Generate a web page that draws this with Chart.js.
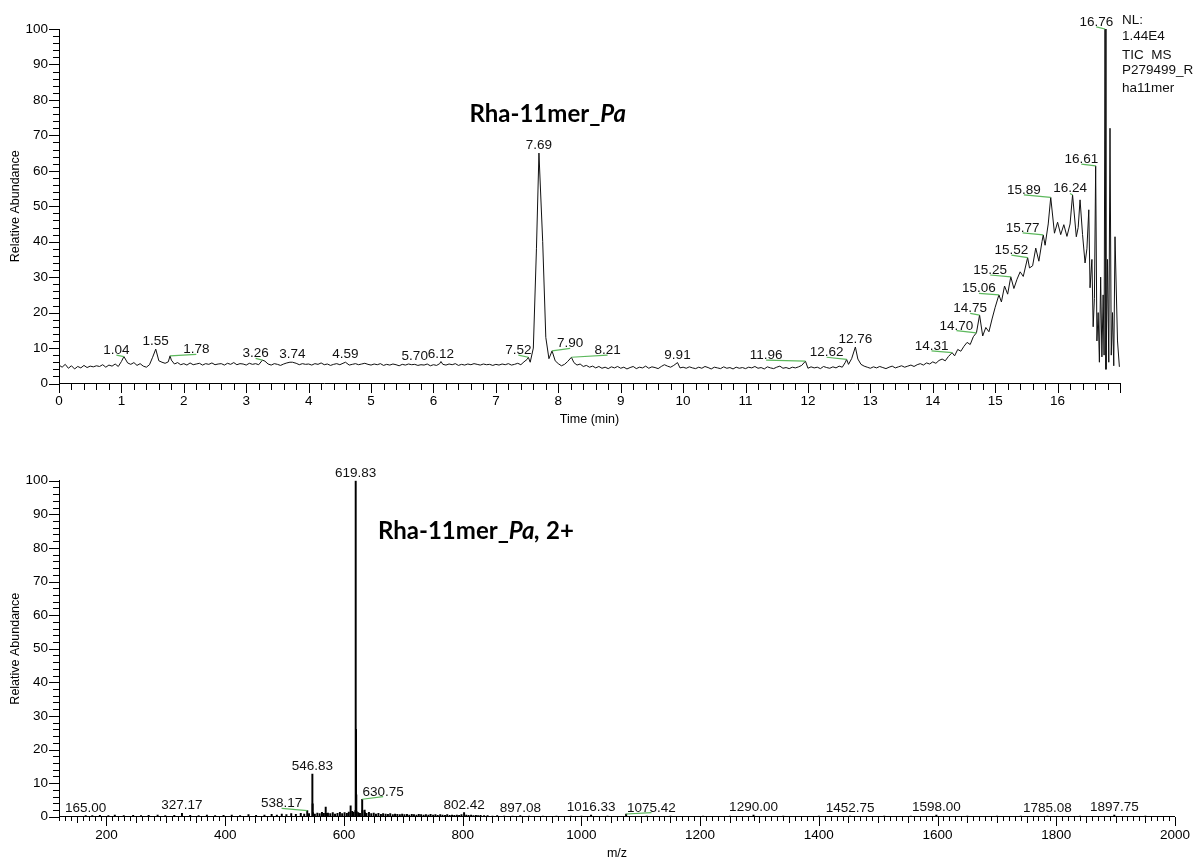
<!DOCTYPE html>
<html>
<head>
<meta charset="utf-8">
<script src="https://cdn.jsdelivr.net/npm/chart.js@4.4.1/dist/chart.umd.min.js"></script>
<style>
  body { margin: 0; background: #fff; }
  #page { position: relative; width: 1200px; height: 861px; overflow: hidden; font-family: "Liberation Sans", Arial, sans-serif; }
  canvas { position: absolute; left: 0; }
  #tic { top: 0; }
  #ms { top: 430px; }
  .title { position: absolute; font-family: Lato, "Open Sans", sans-serif; font-weight: 700; font-size: 24px; line-height: 24px; white-space: nowrap; color: #000; }
  .note { position: absolute; left: 1122px; font-size: 13.5px; line-height: 16px; white-space: pre; color: #111; }
</style>
</head>
<body>
<div id="page">
  <canvas id="tic" width="1200" height="430"></canvas>
  <canvas id="ms" width="1200" height="431"></canvas>
  <div class="title" style="right:574px; top:101px;">Rha-11mer_<i>Pa</i></div>
  <div class="title" style="left:378px; top:518px;">Rha-11mer_<i>Pa,</i> 2+</div>
  <div class="note" style="top:12px;">NL:</div>
  <div class="note" style="top:28px;">1.44E4</div>
  <div class="note" style="top:47px;">TIC  MS</div>
  <div class="note" style="top:62px;">P279499_R</div>
  <div class="note" style="top:80px;">ha11mer</div>
</div>
<script>
// TIC trace, one scan every 0.05 min from 0 to 16.30 min
const ticStep = 0.05;
const ticScan = [
  5.2,4.6,5.4,4.3,5.0,4.1,4.8,4.4,5.1,4.5,4.9,4.7,5.0,4.8,5.3,4.6,5.2,4.9,5.5,4.8,
  6.2,7.4,5.8,5.4,5.9,5.1,5.6,4.9,4.6,5.3,7.4,9.5,6.4,6.0,5.7,6.1,6.6,5.5,5.9,5.3,
  5.6,5.2,5.8,5.3,5.5,5.7,5.2,5.6,5.4,5.8,5.3,5.5,5.6,5.2,5.7,5.4,5.9,5.3,5.6,5.5,
  5.2,5.7,5.4,5.6,5.3,5.9,6.3,5.5,5.2,5.6,5.4,5.1,5.5,5.8,6.0,5.4,5.7,5.3,5.6,5.4,
  5.5,5.2,5.6,5.4,5.8,5.3,5.5,5.1,5.4,5.6,5.3,5.7,5.5,5.2,5.4,5.6,5.3,5.5,5.7,5.4,
  5.2,5.5,5.3,5.6,5.1,5.4,5.2,5.5,5.3,5.0,5.4,5.2,5.5,5.3,5.6,5.1,5.3,5.2,5.5,5.0,
  5.3,5.1,5.6,5.4,5.2,5.5,5.3,5.6,5.1,5.4,5.2,5.5,5.3,5.6,5.4,5.2,5.5,5.3,5.4,5.1,
  5.4,5.2,5.5,5.3,5.6,5.2,5.4,5.7,5.3,6.1,6.8,6.0,10.0,38.0,64.0,40.0,13.0,7.0,9.0,6.4,
  5.6,5.0,5.4,6.2,7.2,5.9,5.2,5.5,4.8,5.1,4.6,4.9,4.4,4.8,4.3,4.6,4.2,4.7,4.4,4.8,
  4.3,4.6,4.1,4.5,4.8,4.2,4.6,4.4,4.9,4.3,4.7,4.5,4.2,4.8,5.3,4.9,4.6,5.1,5.8,4.4,
  4.6,4.3,4.7,4.4,4.2,4.6,4.3,4.8,4.5,4.1,4.6,4.4,4.2,4.7,4.3,4.5,4.1,4.6,4.3,4.5,
  4.2,4.6,4.4,4.8,4.3,4.5,4.1,4.7,4.4,4.2,4.6,4.9,4.3,4.5,4.2,4.6,4.4,4.7,5.1,6.0,
  4.3,4.7,4.4,4.6,4.2,4.8,4.5,4.3,4.7,4.4,4.9,4.6,6.0,5.4,7.0,10.0,6.9,5.4,4.9,4.6,
  4.3,4.7,4.4,4.8,4.5,4.2,4.6,4.9,4.4,4.7,5.0,4.6,4.9,5.2,4.8,5.3,5.6,5.2,5.8,5.5,
  6.1,5.7,6.5,6.9,6.4,7.6,8.4,7.8,9.6,9.1,10.5,11.6,11.0,13.2,14.3,19.0,13.4,15.8,14.6,18.2,
  21.5,24.0,23.0,27.5,25.2,30.0,26.8,29.4,31.5,30.2,34.0,32.6,33.2,38.2,34.5,40.0,39.0,45.0,51.0,42.4,
  45.5,42.0,44.8,41.5,45.0,50.0,41.4
];
// end of the run, where the scans are denser
const ticTailTimes = [16.33, 16.36, 16.40, 16.44, 16.47, 16.50, 16.52, 16.55, 16.57, 16.59, 16.63, 16.65, 16.67, 16.69, 16.71, 16.73, 16.745, 16.775, 16.80, 16.82, 16.84, 16.86, 16.88, 16.90, 16.92, 16.96, 16.99];
const ticTailValues = [44, 51.8, 42, 34, 38, 49, 27, 35, 16, 24, 12, 20, 6, 30, 7.5, 25, 8, 4, 35, 6, 72, 8, 20, 5, 41.4, 12, 4.7];

// labelled TIC peaks: apex, and where the label sits when it is pushed aside
const ticPeakTimes = [1.04, 1.55, 1.78, 3.26, 3.74, 4.59, 5.70, 6.12, 7.52, 7.69, 7.90, 8.21, 9.91, 11.96, 12.62, 12.76, 14.31, 14.70, 14.75, 15.06, 15.25, 15.52, 15.77, 15.89, 16.24, 16.61, 16.76];
const ticPeakTops = [7.6, 9.7, 7.8, 6.6, 6.0, 6.0, 5.4, 6.2, 7.4, 65.0, 9.2, 7.4, 5.9, 6.3, 6.8, 10.3, 8.7, 14.3, 19.3, 25.0, 30.1, 35.5, 41.9, 52.5, 53.2, 61.4, 100];
const ticLeadTimes = [0.92, null, 2.20, 3.15, null, null, null, null, 7.36, null, 8.19, 8.79, null, 11.33, 12.30, null, 13.98, 14.38, 14.60, 14.74, 14.92, 15.26, 15.44, 15.46, 16.20, 16.38, 16.62];
const ticLeadTops = [8.0, null, 8.2, 7.1, null, null, null, null, 8.0, null, 9.9, 8.0, null, 6.6, 7.4, null, 9.2, 14.9, 19.8, 25.4, 30.6, 36.2, 42.5, 53.2, 53.6, 61.9, 100.6];

// mass spectrum, unlabelled sticks
const specMz = [176.1, 188.9, 203.2, 214.0, 229.1, 244.9, 258.2, 271.0, 286.1, 299.0, 314.2, 341.0, 355.2, 369.1, 383.0, 397.2, 411.0, 425.1, 439.2, 452.0, 466.1, 478.2, 487.0, 495.3, 503.1, 511.2, 519.0, 527.3, 533.1, 541.2, 547.33, 547.83, 551.0, 555.2, 559.1, 563.0, 566.2, 569.3, 569.8, 573.1, 577.0, 581.2, 585.0, 589.1, 593.2, 597.0, 601.1, 605.0, 608.2, 611.3, 614.0, 616.2, 619.33, 620.33, 620.83, 621.33, 624.1, 627.0, 631.25, 634.9, 635.4, 638.0, 642.1, 646.0, 650.2, 654.0, 658.1, 662.3, 666.0, 670.2, 674.1, 678.0, 682.3, 686.1, 690.0, 694.2, 698.1, 702.0, 706.2, 710.1, 714.3, 718.0, 722.2, 726.1, 730.0, 734.2, 738.1, 742.3, 746.0, 750.2, 754.1, 758.0, 762.2, 766.1, 770.3, 774.0, 778.2, 782.1, 786.0, 790.2, 794.1, 798.0, 806.1, 810.0, 814.2, 818.1, 822.3, 826.0, 830.2, 836.1, 842.0, 850.2, 858.1, 870.0, 884.1, 912.0, 935.1, 958.0, 982.2, 1000.1, 1044.0, 1110.0, 1150.1, 1205.0, 1250.2, 1340.1, 1400.0, 1510.2, 1555.0, 1650.1, 1700.0, 1740.2, 1840.0, 1950.1];
const specInt = [0.3, 0.4, 0.3, 0.5, 0.3, 0.4, 0.3, 0.4, 0.5, 0.3, 0.4, 0.4, 0.3, 0.5, 0.3, 0.4, 0.5, 0.3, 0.6, 0.4, 0.5, 0.7, 0.5, 0.8, 0.6, 0.9, 0.7, 1.0, 0.8, 0.9, 3.8, 1.2, 0.8, 1.1, 0.9, 1.3, 1.0, 2.9, 1.0, 1.1, 0.9, 1.2, 0.8, 1.0, 1.3, 0.9, 1.2, 1.0, 1.4, 3.2, 1.6, 1.3, 1.8, 26, 6.5, 1.5, 1.2, 1.0, 1.8, 2.0, 1.2, 1.0, 1.3, 0.9, 1.1, 0.8, 1.0, 0.7, 0.9, 0.8, 0.7, 0.9, 0.6, 0.8, 0.7, 0.6, 0.8, 0.6, 0.7, 0.5, 0.7, 0.6, 0.5, 0.7, 0.6, 0.5, 0.6, 0.5, 0.7, 0.5, 0.6, 0.4, 0.6, 0.5, 0.4, 0.6, 0.4, 0.5, 0.4, 0.5, 0.4, 0.6, 0.5, 0.4, 0.5, 0.3, 0.4, 0.3, 0.4, 0.3, 0.3, 0.2, 0.3, 0.2, 0.2, 0.2, 0.2, 0.2, 0.2, 0.2, 0.2, 0.2, 0.2, 0.2, 0.2, 0.2, 0.2, 0.2, 0.2, 0.2, 0.2, 0.2, 0.2, 0.2];

// labelled spectrum peaks
const msPeakMz = [165.00, 327.17, 538.17, 546.83, 619.83, 630.75, 802.42, 897.08, 1016.33, 1075.42, 1290.00, 1452.75, 1598.00, 1785.08, 1897.75];
const msPeakTops = [0.3, 1.0, 1.8, 12.7, 100, 5.2, 1.2, 0.3, 0.5, 0.8, 0.5, 0.2, 0.5, 0.2, 0.5];
const msLeadMz = [null, null, 495, null, null, 666, null, null, null, 1118, null, null, null, null, null];
const msLeadTops = [null, null, 2.5, null, null, 6.0, null, null, null, 1.2, null, null, null, null, null];

// axis tick labels
const timeTicks = [0, 1, 2, 3, 4, 5, 6, 7, 8, 9, 10, 11, 12, 13, 14, 15, 16];
const mzTicks = [200, 400, 600, 800, 1000, 1200, 1400, 1600, 1800, 2000];
const abundTicks = [0, 10, 20, 30, 40, 50, 60, 70, 80, 90, 100];

const tickFont = { family: '"Liberation Sans", Arial, sans-serif', size: 13.5 };
const titleFont = { family: '"Liberation Sans", Arial, sans-serif', size: 12.5 };

function buildTrace() {
  const pts = ticScan.map((y, i) => ({ x: +(i * ticStep).toFixed(2), y: y }));
  ticTailTimes.forEach((t, i) => pts.push({ x: t, y: ticTailValues[i] }));
  const kept = pts.filter(p => !ticPeakTimes.some(t => Math.abs(p.x - t) < 0.012));
  ticPeakTimes.forEach((t, i) => kept.push({ x: t, y: ticPeakTops[i] }));
  return kept.sort((a, b) => a.x - b.x);
}

function buildSticks() {
  const s = specMz.map((m, i) => ({ x: m, y: specInt[i] }));
  msPeakMz.forEach((m, i) => s.push({ x: m, y: msPeakTops[i] }));
  return s.sort((a, b) => a.x - b.x);
}

// tick marks drawn outward from the axes, several lengths
const tickMarks = {
  id: 'tickMarks',
  afterDraw(chart, args, opts) {
    const { ctx, chartArea } = chart;
    const xs = chart.scales.x, ys = chart.scales.y;
    const base = Math.round(chartArea.bottom), left = Math.round(chartArea.left);
    ctx.save();
    ctx.strokeStyle = '#000';
    ctx.lineWidth = 1;
    ctx.beginPath();
    opts.x.forEach(([step, len]) => {
      for (let i = Math.ceil(xs.min / step - 1e-9); i * step <= xs.max + 1e-9; i++) {
        const px = Math.round(xs.getPixelForValue(i * step)) + 0.5;
        ctx.moveTo(px, base);
        ctx.lineTo(px, base + len);
      }
    });
    opts.y.forEach(([step, len]) => {
      for (let i = Math.ceil(ys.min / step - 1e-9); i * step <= ys.max + 1e-9; i++) {
        const py = Math.round(ys.getPixelForValue(i * step)) + 0.5;
        ctx.moveTo(left, py);
        ctx.lineTo(left - len, py);
      }
    });
    ctx.stroke();
    ctx.restore();
  }
};

// peak labels with the green leader when the label is moved aside
const peakLabels = {
  id: 'peakLabels',
  afterDatasetsDraw(chart, args, opts) {
    const { ctx } = chart;
    const xs = chart.scales.x, ys = chart.scales.y;
    ctx.save();
    ctx.font = '13.5px "Liberation Sans", Arial, sans-serif';
    ctx.textAlign = 'center';
    ctx.textBaseline = 'alphabetic';
    opts.at.forEach((v, i) => {
      const ax = xs.getPixelForValue(v), ay = ys.getPixelForValue(opts.top[i]);
      let tx = ax, ty = ay - 4;
      if (opts.leadAt[i] !== null) {
        const lx = xs.getPixelForValue(opts.leadAt[i]), ly = ys.getPixelForValue(opts.leadTop[i]);
        ctx.strokeStyle = '#5cb85c';
        ctx.lineWidth = 1.2;
        ctx.beginPath();
        ctx.moveTo(ax, ay);
        ctx.lineTo(lx, ly);
        ctx.stroke();
        tx = lx;
        ty = ly - 1;
      }
      ctx.fillStyle = '#111';
      ctx.fillText(v.toFixed(2), tx, ty);
    });
    ctx.restore();
  }
};

function yScale() {
  return {
    min: 0, max: 100,
    afterFit: s => { s.width = 59; },
    afterBuildTicks: s => { s.ticks = abundTicks.map(v => ({ value: v })); },
    grid: { display: false, drawTicks: false },
    border: { display: true, color: '#000', width: 1 },
    ticks: { padding: 11, color: '#000', font: tickFont, autoSkip: false, callback: v => String(v) },
    title: { display: true, text: 'Relative Abundance', color: '#000', font: titleFont, padding: { top: 8.5, bottom: 0 } }
  };
}

new Chart(document.getElementById('tic'), {
  type: 'line',
  data: {
    datasets: [{ data: buildTrace(), borderColor: '#111', borderWidth: 1, pointRadius: 0, tension: 0, fill: false }]
  },
  options: {
    responsive: false,
    animation: false,
    layout: { padding: { left: 0, top: 29, right: 80, bottom: 2.5 } },
    plugins: {
      legend: { display: false },
      tooltip: { enabled: false },
      tickMarks: { x: [[0.2, 6], [1, 9]], y: [[2, 6], [10, 10]] },
      peakLabels: { at: ticPeakTimes, top: ticPeakTops, leadAt: ticLeadTimes, leadTop: ticLeadTops }
    },
    scales: {
      x: {
        type: 'linear', min: 0, max: 17,
        afterFit: s => { s.height = 44; },
        afterBuildTicks: s => { s.ticks = timeTicks.map(v => ({ value: v })); },
        grid: { display: false, drawTicks: false },
        border: { display: true, color: '#000', width: 1 },
        ticks: { padding: 10, color: '#000', font: tickFont, autoSkip: false, maxRotation: 0, callback: v => String(v) },
        title: { display: true, text: 'Time (min)', color: '#000', font: titleFont, padding: 0 }
      },
      y: yScale()
    }
  },
  plugins: [tickMarks, peakLabels]
});

new Chart(document.getElementById('ms'), {
  type: 'bar',
  data: {
    datasets: [{ data: buildSticks(), backgroundColor: '#000', barThickness: 1.3, borderWidth: 0 }]
  },
  options: {
    responsive: false,
    animation: false,
    layout: { padding: { left: 0, top: 50.7, right: 22.3, bottom: 0 } },
    plugins: {
      legend: { display: false },
      tooltip: { enabled: false },
      tickMarks: { x: [[10, 4], [50, 6], [200, 9]], y: [[2, 6], [10, 10]] },
      peakLabels: { at: msPeakMz, top: msPeakTops, leadAt: msLeadMz, leadTop: msLeadTops }
    },
    scales: {
      x: {
        type: 'linear', min: 120, max: 2000, offset: false,
        afterFit: s => { s.height = 44.3; },
        afterBuildTicks: s => { s.ticks = mzTicks.map(v => ({ value: v })); },
        grid: { display: false, drawTicks: false, offset: false },
        border: { display: true, color: '#000', width: 1 },
        ticks: { padding: 10, color: '#000', font: tickFont, autoSkip: false, maxRotation: 0, callback: v => String(v) },
        title: { display: true, text: 'm/z', color: '#000', font: titleFont, padding: 0 }
      },
      y: yScale()
    }
  },
  plugins: [tickMarks, peakLabels]
});
</script>
</body>
</html>
